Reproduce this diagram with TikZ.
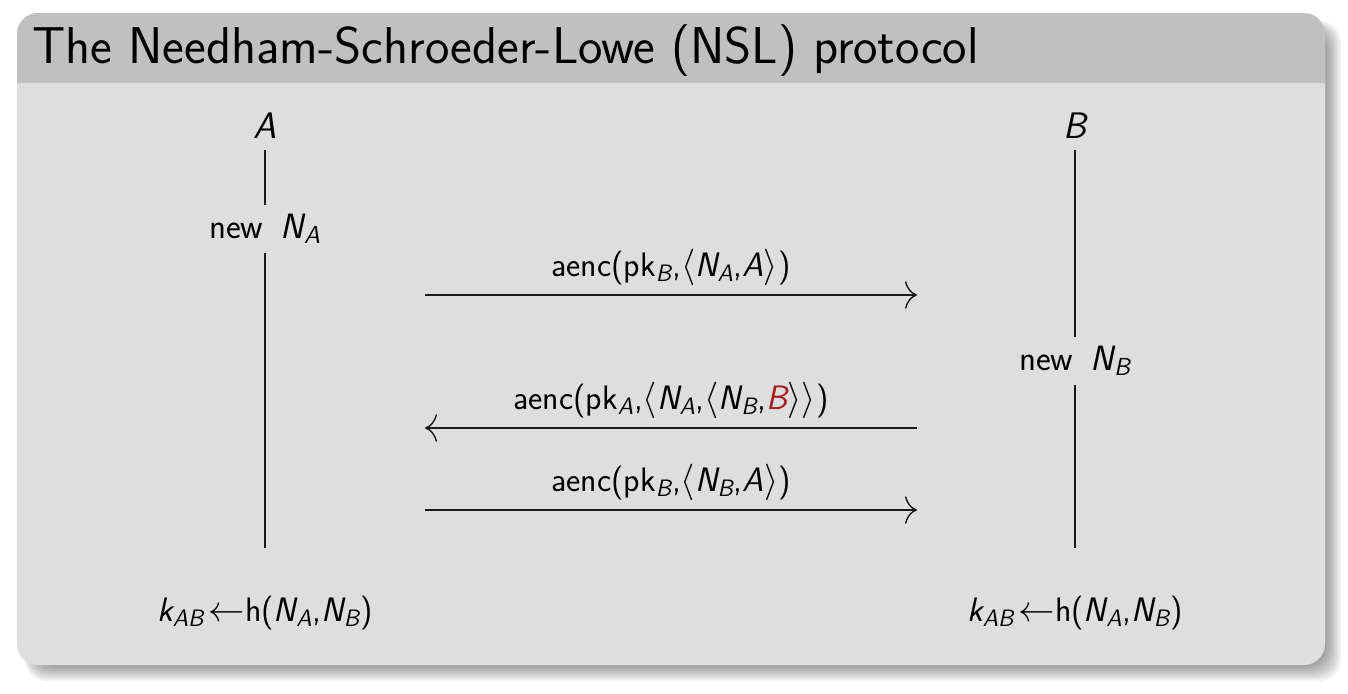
\documentclass[tikz,border=0pt]{standalone}
\usepackage{tikz}
\usepackage{xcolor}
\usepackage{amsmath}
\usetikzlibrary{arrows.meta, positioning}
\definecolor{titlegray}{HTML}{C0C0C0}
\definecolor{bodygray}{HTML}{DEDEDE}
\definecolor{lineblack}{HTML}{1A1A1A}
\definecolor{attack}{HTML}{A51C1C}
\newcommand{\nm}[1]{\text{\sffamily\slshape #1}}
\tikzset{
  headline/.style={font=\sffamily\fontsize{29.5}{34}\selectfont, inner sep=0pt, anchor=base west},
  agent/.style={font=\sffamily\fontsize{21}{25}\selectfont, inner sep=6pt},
  act/.style={font=\sffamily\fontsize{20}{24}\selectfont, inner xsep=2pt, inner ysep=5pt},
  key/.style={font=\sffamily\fontsize{19.3}{23}\selectfont, inner sep=2pt},
  lbl/.style={font=\sffamily\fontsize{19.3}{23}\selectfont, inner sep=2pt},
  life/.style={line width=1.1pt, draw=lineblack},
  msg/.style={-{Computer Modern Rightarrow[length=2.4mm, width=5.5mm]}, line width=0.8pt, draw=lineblack},
}

\begin{document}
\begin{tikzpicture}[x=0.2mm, y=-0.2mm]
  % page and block
  \fill[white] (0,0) rectangle (1348,693);
  \foreach \d in {0,...,7}
    \fill[black, opacity=0.05, rounded corners=12] (25+\d,21+\d) rectangle (1341-2*\d,681-2*\d);
  \fill[bodygray, rounded corners=12] (17,13) rectangle (1325,665);
  \begin{scope}
    \clip (17,13) rectangle (1325,82);
    \fill[titlegray, rounded corners=12] (17,13) rectangle (1325,665);
  \end{scope}
  \node[headline] (title) at (32,63) {The Needham-Schroeder-Lowe (NSL) protocol};

  % agents
  \node[agent] (A) at (265,126) {$\nm{A}$};
  \node[agent] (B) at (1075,126) {$\nm{B}$};
  \node[act] (newA) at (265,229) {new\enspace$\nm{N}_{\nm{A}}$};
  \node[act] (newB) at (1075,361) {new\enspace$\nm{N}_{\nm{B}}$};
  \coordinate (endA) at (265,548);
  \coordinate (endB) at (1075,548);
  \draw[life] (A) -- (newA);
  \draw[life] (newA) -- (endA);
  \draw[life] (B) -- (newB);
  \draw[life] (newB) -- (endB);
  \node[key] (keyA) at (265,613) {$\nm{k}_{\nm{AB}}\!\leftarrow$h($\nm{N}_{\nm{A}}$,$\nm{N}_{\nm{B}}$)};
  \node[key] (keyB) at (1075,613) {$\nm{k}_{\nm{AB}}\!\leftarrow$h($\nm{N}_{\nm{A}}$,$\nm{N}_{\nm{B}}$)};

  % messages
  \coordinate (m1s) at (425,295); \coordinate (m1e) at (917,295);
  \coordinate (m2s) at (917,428); \coordinate (m2e) at (425,428);
  \coordinate (m3s) at (425,510); \coordinate (m3e) at (917,510);
  \draw[msg] (m1s) -- node[lbl, above=3pt] (l1)
    {aenc(pk$_{\nm{B}}$,$\langle\nm{N}_{\nm{A}}$,$\nm{A}\rangle$)} (m1e);
  \draw[msg] (m2s) -- node[lbl, above=3pt] (l2)
    {aenc(pk$_{\nm{A}}$,$\langle\nm{N}_{\nm{A}}$,$\langle\nm{N}_{\nm{B}}$,$\textcolor{attack}{\nm{B}}\rangle\rangle$)} (m2e);
  \draw[msg] (m3s) -- node[lbl, above=3pt] (l3)
    {aenc(pk$_{\nm{B}}$,$\langle\nm{N}_{\nm{B}}$,$\nm{A}\rangle$)} (m3e);
\end{tikzpicture}
\end{document}
